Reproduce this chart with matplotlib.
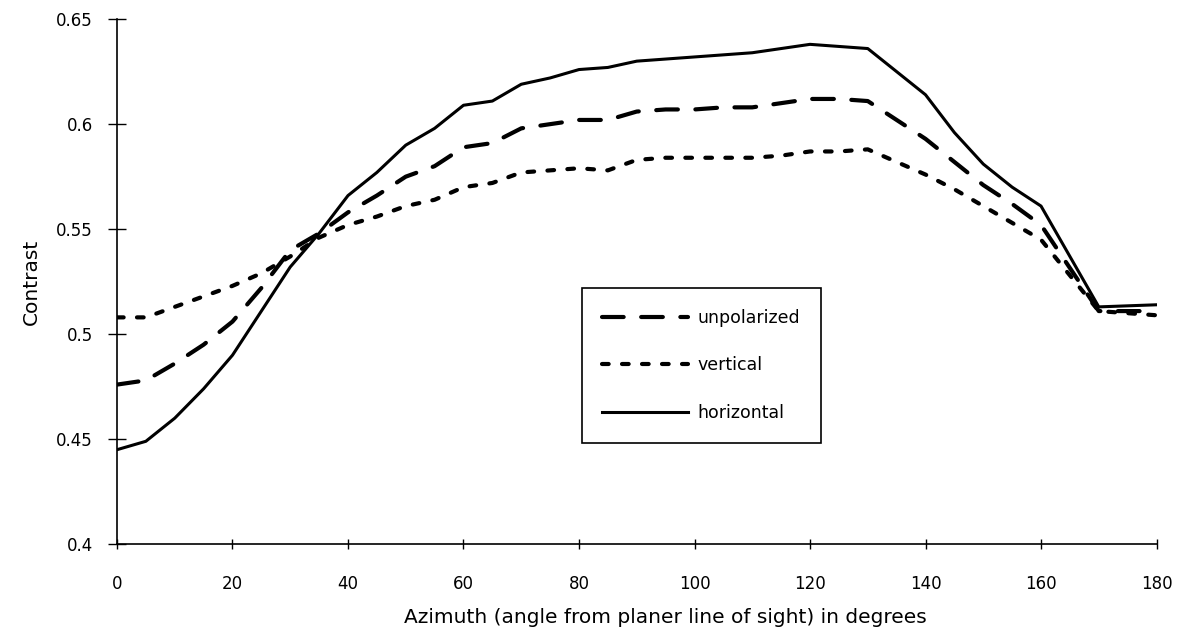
import matplotlib
matplotlib.use("Agg")
import matplotlib.pyplot as plt

plt.rcParams["font.family"] = ["DejaVu Sans"]

# azimuth in degrees (5 deg steps up to 160, then 170 and 180)
AZIMUTH = [0, 5, 10, 15, 20, 25, 30, 35, 40, 45, 50, 55, 60, 65, 70, 75, 80,
           85, 90, 95, 100, 105, 110, 115, 120, 125, 130, 135, 140, 145, 150,
           155, 160, 170, 180]

UNPOLARIZED = [0.476, 0.478, 0.486, 0.495, 0.506, 0.522, 0.540, 0.548, 0.558,
               0.566, 0.575, 0.580, 0.589, 0.591, 0.598, 0.600, 0.602, 0.602,
               0.606, 0.607, 0.607, 0.608, 0.608, 0.610, 0.612, 0.612, 0.611,
               0.602, 0.593, 0.582, 0.571, 0.562, 0.552, 0.511, 0.511]

VERTICAL = [0.508, 0.508, 0.513, 0.518, 0.523, 0.529, 0.537, 0.546, 0.552,
            0.556, 0.561, 0.564, 0.570, 0.572, 0.577, 0.578, 0.579, 0.578,
            0.583, 0.584, 0.584, 0.584, 0.584, 0.585, 0.587, 0.587, 0.588,
            0.582, 0.576, 0.569, 0.561, 0.553, 0.545, 0.511, 0.509]

HORIZONTAL = [0.445, 0.449, 0.460, 0.474, 0.490, 0.511, 0.532, 0.548, 0.566,
              0.577, 0.590, 0.598, 0.609, 0.611, 0.619, 0.622, 0.626, 0.627,
              0.630, 0.631, 0.632, 0.633, 0.634, 0.636, 0.638, 0.637, 0.636,
              0.625, 0.614, 0.596, 0.581, 0.570, 0.561, 0.513, 0.514]

X_TICKS = list(range(0, 181, 20))
Y_TICKS = [0.4, 0.45, 0.5, 0.55, 0.6, 0.65]
Y_TICK_LABELS = ["0.4", "0.45", "0.5", "0.55", "0.6", "0.65"]

fig = plt.figure(figsize=(11.84, 6.38), dpi=100)
ax = fig.add_axes([0.0988, 0.147, 0.878, 0.823])

ax.plot(AZIMUTH, UNPOLARIZED, color="black", lw=3,
        linestyle=(0, (5.2, 4.2)), dash_capstyle="round",
        label="unpolarized")
ax.plot(AZIMUTH, VERTICAL, color="black", lw=3,
        linestyle=(0, (1.6, 3.2)), dash_capstyle="round",
        label="vertical")
ax.plot(AZIMUTH, HORIZONTAL, color="black", lw=2.2, label="horizontal")

ax.set_xlim(0, 180)
ax.set_ylim(0.4, 0.65)
ax.set_xticks(X_TICKS)
ax.set_yticks(Y_TICKS)
ax.set_yticklabels(Y_TICK_LABELS)
ax.tick_params(axis="y", direction="inout", length=13, width=1, pad=11,
               labelsize=12)
ax.tick_params(axis="x", direction="inout", length=7, width=1, pad=19,
               labelsize=12)

for side in ("top", "right"):
    ax.spines[side].set_visible(False)
for side in ("left", "bottom"):
    ax.spines[side].set_linewidth(1.2)

ax.set_xlabel("Azimuth (angle from planer line of sight) in degrees",
              fontsize=14.5)
ax.xaxis.set_label_coords(0.528, -0.122)
ax.set_ylabel("Contrast", fontsize=14.5)
ax.yaxis.set_label_coords(-0.073, 0.5)

leg = ax.legend(loc="upper left", bbox_to_anchor=(0.447, 0.488),
                borderaxespad=0, fontsize=12.5, handlelength=4.9,
                handletextpad=0.55, labelspacing=1.7, borderpad=1.2,
                fancybox=False, framealpha=1, edgecolor="black")
leg.get_frame().set_linewidth(1.2)

fig.savefig("out.png", dpi=100)
